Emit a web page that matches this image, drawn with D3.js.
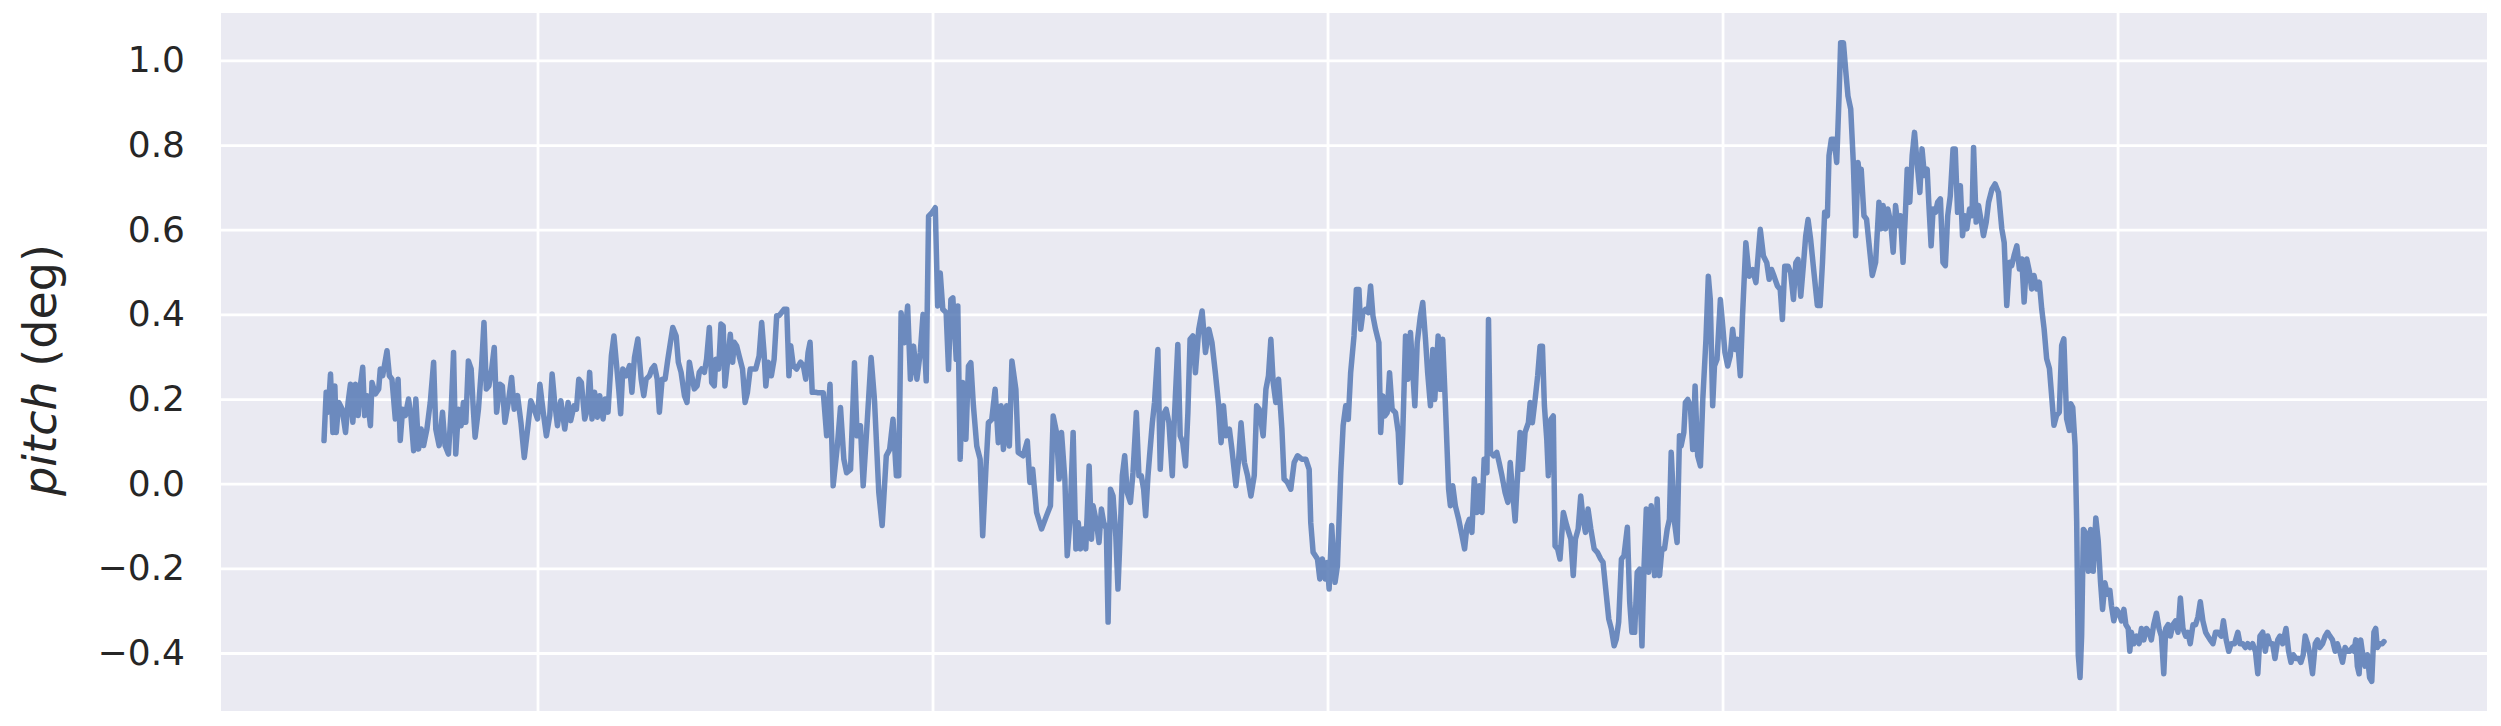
<!DOCTYPE html>
<html>
<head>
<meta charset="utf-8">
<script src="https://cdn.jsdelivr.net/npm/d3@7"></script>
<style>
  body { margin: 0; background: #fff; }
  .grid line { stroke: #fff; stroke-width: 2.8px; }
  .grid path { display: none; }
  .axis text { font-family: "DejaVu Sans", sans-serif; fill: #262626; }
</style>
</head>
<body>
<svg width="2501" height="726"></svg>
<script>
// sample time (arbitrary units, no labels on the x axis) and pitch in degrees
var timeSteps = [
  91.9,93.0,94.0,95.2,96.4,97.4,98.1,99.4,101.1,102.8,104.1,105.3,106.5,107.8,109.2,110.4,111.5,112.5,113.7,115.4,
  116.2,117.9,119.6,120.4,121.6,123.8,125.0,126.3,128.0,129.4,130.5,131.7,133.1,134.7,135.9,137.3,138.4,139.8,141.1,142.3,
  144.0,145.7,147.4,148.5,150.2,151.9,153.2,154.9,156.3,157.5,158.6,160.0,161.3,162.5,163.7,165.0,166.4,167.5,168.4,170.1,
  171.7,172.9,174.1,175.4,176.8,178.1,179.3,181.0,182.2,183.5,185.2,186.9,188.2,189.9,191.6,193.3,195.0,196.6,198.3,200.0,
  201.2,202.9,204.5,206.2,207.4,208.7,210.1,211.8,213.8,215.5,
  216.8,218.5,219.7,220.9,222.2,223.9,225.3,226.4,227.6,228.9,230.3,231.5,233.2,234.3,235.7,237.4,238.7,239.9,241.1,242.1,
  243.2,244.9,246.6,247.8,249.1,250.8,252.5,253.8,255.0,256.7,257.9,259.2,260.6,261.7,263.1,264.6,266.0,267.3,268.5,270.2,
  271.3,272.7,274.4,275.7,276.9,278.1,279.4,280.8,281.9,283.1,284.5,285.6,287.0,288.2,289.5,290.3,291.7,292.9,294.0,294.9,
  296.2,297.6,298.8,299.6,300.8,302.1,303.8,305.1,306.3,307.7,309.3,310.5,312.2,313.5,314.7,315.6,316.8,318.4,319.8,321.1,
  322.3,323.5,324.8,326.2,327.3,328.2,329.5,331.2,333.2,334.6,335.8,337.0,338.0,339.1,340.8,
  341.7,344.7,346.4,348.1,349.7,351.8,353.4,355.1,356.5,358.5,360.5,361.8,363.5,364.9,366.6,368.9,370.6,372.8,374.5,376.6,
  378.3,380.0,381.7,382.9,384.1,385.7,387.4,388.8,390.4,392.1,393.8,395.2,396.8,398.0,399.7,401.4,402.6,403.9,405.2,406.9,
  408.1,409.3,410.3,412.0,412.8,414.0,415.3,416.9,418.2,419.4,420.7,422.4,424.1,425.4,427.1,428.3,430.0,431.7,433.3,434.7,
  435.9,437.5,438.9,440.2,442.2,443.4,445.9,448.0,449.3,450.7,452.7,455.2,457.7,459.7,461.1,462.8,464.1,465.3,467.0,
  468.2,469.5,471.2,472.6,473.8,474.9,476.3,477.6,479.3,480.5,481.3,483.0,484.3,485.5,486.7,488.0,488.9,490.1,491.4,492.8,
  493.9,495.1,496.1,497.3,498.6,500.2,501.5,503.2,504.5,505.7,506.9,507.9,509.1,509.9,511.3,512.4,514.1,515.3,516.6,518.3,
  519.7,521.4,522.5,524.2,525.4,526.7,528.1,529.3,530.4,531.8,533.1,534.8,536.5,538.2,539.9,541.5,543.2,544.9,546.1,547.3,
  548.6,550.3,551.6,553.6,555.0,556.2,557.9,559.5,561.2,562.9,564.1,565.4,567.4,568.8,570.1,571.3,572.5,573.8,575.2,576.9,
  578.0,579.7,581.4,583.1,584.8,587.0,589.0,590.7,591.5,592.7,594.9,
  596.1,597.4,598.8,599.9,600.8,602.1,603.8,605.0,606.7,607.9,609.2,610.5,611.7,613.4,614.6,615.9,616.8,617.9,619.3,620.6,
  621.8,623.0,624.3,626.0,626.9,628.0,629.0,630.2,631.4,632.7,634.4,635.8,637.0,638.1,639.5,640.7,642.0,643.2,644.2,645.4,
  647.0,648.2,649.6,650.7,652.1,653.3,654.3,656.0,657.1,658.3,659.7,661.3,662.2,663.4,664.7,666.4,668.1,669.4,670.6,671.8,
  673.1,674.3,675.6,676.8,678.2,679.3,680.7,681.5,682.5,684.1,685.7,686.9,688.3,689.9,691.3,692.5,693.6,695.0,696.3,697.5,
  698.7,700.0,701.7,702.6,703.7,705.1,706.4,707.6,708.8,709.8,711.0,711.8,713.1,714.3,715.2,716.5,717.7,719.4,721.1,
  723.2,724.4,725.5,726.9,728.2,729.4,730.6,731.9,733.3,735.0,736.6,738.3,739.5,741.2,742.4,743.7,745.1,746.2,747.4,748.8,
  750.1,751.8,753.0,754.1,755.5,756.8,758.0,759.2,760.2,761.4,762.6,763.9,765.6,766.9,768.1,769.3,770.6,772.0,773.1,774.0,
  775.7,777.0,778.2,779.0,780.4,781.2,782.4,783.7,784.9,786.1,787.4,788.8,790.0,791.6,792.8,793.8,795.0,795.9,797.2,798.9,
  800.1,801.2,802.6,803.9,805.1,806.3,807.6,809.0,810.1,811.8,813.5,815.2,816.9,818.1,819.1,820.7,822.4,823.6,824.8,826.1,
  827.8,829.2,830.3,831.5,833.2,834.5,835.9,837.1,838.2,839.6,840.9,842.1,843.3,844.6,846.3,
  848.0,849.4,850.6,851.7,853.1,853.9,855.1,856.5,857.8,859.0,859.8,861.2,862.3,863.5,864.9,866.2,867.4,868.6,869.6,870.2,
  871.6,872.9,874.1,875.8,877.5,879.2,880.3,881.3,882.5,883.7,885.1,886.4,887.6,888.8,890.1,891.4,892.6,893.5,894.8,896.0,
  897.2,898.5,899.9,901.0,902.2,903.6,904.4,905.6,906.6,907.8,908.9,910.3,911.6,912.8,914.0,915.3,916.7,917.8,919.0,920.4,
  921.5,922.7,923.7,925.1,926.3,927.1,928.4,929.6,930.8,932.1,933.5,934.7,936.4,938.0,939.7,941.4,942.6,943.9,945.3,946.4,
  947.6,949.0,950.3,951.5,952.7,954.0,955.4,956.5,957.7,959.1,960.4,961.6,962.8,964.1,965.5,966.6,967.8,969.1,970.5,971.7,
  972.8,974.2,
  975.6,976.3,977.3,978.5,979.3,980.1,981.0,981.8,982.7,984.0,985.2,986.4,987.7,989.0,990.2,991.4,992.4,993.6,994.8,996.1,
  996.9,998.1,999.5,1000.8,1002.0,1003.2,1004.2,1005.4,1006.2,1007.0,1008.2,1009.6,1010.9,1012.1,1013.3,1014.6,1016.0,1017.1,1018.3,1019.7,
  1021.0,1022.2,1023.4,1024.4,1025.6,1026.7,1028.1,1029.4,1030.6,1031.8,1033.1,1034.5,1035.6,1036.8,1038.2,1039.5,1040.7,1041.9,1043.2,1044.6,
  1045.7,1046.9,1048.3,1049.6,1050.8,1052.5,1053.6,1055.0,1056.3,1057.5,1059.2,1060.9,1062.0,1063.4,1064.7,1065.9,1067.1,1068.4,1069.8,1071.0,
  1072.1,1073.5,1074.8,1076.0,1077.2,1078.5,1079.7,1081.1,1082.2,1083.6,1085.3,1086.6,1087.8,1089.0,1090.3,1091.7,1092.8,1094.0,1095.0,1096.2,
  1097.4,1098.7,1100.1,1101.2,1102.4,1103.8,1105.1,1106.3,1107.5,1108.8,1110.2,1111.3,1112.5,1113.9,1115.2,1116.4,1117.6,1118.9,1119.7,1120.6,
  1121.4,1122.3,1123.1,1123.9,1125.3,1126.5,1127.6,1128.7,1129.8,1130.7,1131.5,1132.7,1134.0,1134.9
];

var pitchDeg = [
  0.102,0.216,0.169,0.259,0.121,0.231,0.121,0.192,0.176,0.121,0.192,0.235,0.145,0.235,0.161,0.235,0.275,0.161,0.208,0.137,
  0.239,0.212,0.224,0.271,0.255,0.314,0.255,0.247,0.153,0.247,0.102,0.176,0.161,0.200,0.161,0.078,0.200,0.082,0.129,0.090,
  0.129,0.192,0.287,0.129,0.090,0.169,0.090,0.070,0.176,0.310,0.070,0.176,0.137,0.192,0.145,0.290,0.271,0.176,0.110,0.176,
  0.279,0.381,0.224,0.231,0.271,0.322,0.169,0.235,0.231,0.145,0.192,0.251,0.176,0.208,0.145,0.062,0.129,0.196,0.176,0.153,
  0.235,0.169,0.113,0.161,0.259,0.192,0.137,0.196,0.129,0.192,
  0.149,0.184,0.176,0.247,0.239,0.153,0.176,0.263,0.153,0.216,0.157,0.208,0.153,0.200,0.169,0.302,0.349,0.287,0.224,0.165,
  0.271,0.255,0.279,0.216,0.298,0.342,0.247,0.208,0.247,0.255,0.271,0.279,0.247,0.169,0.247,0.247,0.294,0.334,0.369,0.349,
  0.287,0.263,0.208,0.192,0.287,0.255,0.224,0.231,0.263,0.271,0.263,0.294,0.369,0.239,0.231,0.294,0.271,0.377,0.373,0.231,
  0.287,0.353,0.287,0.334,0.326,0.302,0.271,0.192,0.216,0.271,0.271,0.271,0.302,0.381,0.310,0.231,0.287,0.255,0.294,0.397,
  0.397,0.404,0.412,0.412,0.255,0.326,0.279,0.271,0.287,0.279,0.247,0.310,0.334,0.216,0.216,
  0.215,0.215,0.113,0.235,-0.005,0.089,0.180,0.058,0.026,0.034,0.286,0.113,0.137,-0.005,0.121,0.298,0.199,-0.021,-0.099,0.066,
  0.081,0.152,0.019,0.019,0.404,0.333,0.420,0.247,0.325,0.247,0.310,0.400,0.243,0.632,0.640,0.652,0.420,0.498,0.412,0.404,
  0.270,0.435,0.439,0.294,0.420,0.058,0.239,0.105,0.278,0.286,0.184,0.089,0.058,-0.123,0.042,0.144,0.152,0.223,0.097,0.184,
  0.081,0.184,0.089,0.290,0.223,0.074,0.066,0.101,0.003,0.034,-0.068,-0.107,-0.076,-0.052,0.160,0.121,0.011,0.121,0.011,
  -0.170,-0.092,0.121,-0.154,-0.092,-0.154,-0.107,-0.154,0.042,-0.131,-0.052,-0.092,-0.139,-0.060,-0.092,-0.107,-0.327,-0.013,-0.029,-0.123,
  -0.249,-0.107,0.019,0.066,-0.021,-0.044,0.026,0.168,0.019,0.019,-0.013,-0.076,0.019,0.066,0.144,0.192,0.317,0.034,0.160,0.176,
  0.144,0.019,0.160,0.329,0.113,0.097,0.042,0.168,0.341,0.349,0.262,0.365,0.408,0.310,0.365,0.333,0.262,0.184,0.097,0.184,
  0.113,0.129,0.081,-0.005,0.058,0.144,0.050,0.019,-0.029,0.019,0.184,0.176,0.113,0.223,0.255,0.341,0.239,0.192,0.247,0.129,
  0.011,0.003,-0.013,0.050,0.066,0.058,0.058,0.034,-0.092,-0.162,-0.178,
  -0.225,-0.178,-0.225,-0.186,-0.249,-0.099,-0.233,-0.194,0.026,0.137,0.184,0.152,0.262,0.349,0.459,0.459,0.365,0.404,0.412,0.404,
  0.467,0.396,0.365,0.333,0.121,0.207,0.160,0.168,0.262,0.176,0.168,0.121,0.003,0.121,0.349,0.247,0.357,0.262,0.184,0.333,
  0.396,0.428,0.341,0.262,0.184,0.317,0.199,0.349,0.223,0.341,0.184,-0.013,-0.052,-0.005,-0.052,-0.084,-0.123,-0.154,-0.099,-0.084,
  -0.115,0.011,-0.068,-0.005,-0.068,0.058,0.026,0.388,0.074,0.066,0.074,0.050,0.019,-0.021,-0.044,0.050,-0.013,-0.088,0.026,0.121,
  0.034,0.121,0.144,0.192,0.144,0.199,0.255,0.325,0.325,0.184,0.105,0.019,0.152,0.160,-0.147,-0.154,-0.178,-0.068,-0.099,
  -0.131,-0.217,-0.131,-0.107,-0.029,-0.084,-0.115,-0.060,-0.107,-0.154,-0.162,-0.178,-0.186,-0.265,-0.320,-0.343,-0.383,-0.367,-0.327,-0.178,
  -0.170,-0.103,-0.280,-0.351,-0.351,-0.209,-0.202,-0.383,-0.202,-0.060,-0.209,-0.052,-0.217,-0.036,-0.217,-0.154,-0.154,-0.107,-0.084,0.074,
  -0.092,-0.139,0.113,0.089,0.121,0.192,0.199,0.184,0.081,0.231,0.066,0.042,0.199,0.341,0.490,0.435,0.184,0.278,0.294,0.435,
  0.372,0.310,0.278,0.302,0.365,0.317,0.341,0.255,0.396,0.569,0.490,0.506,0.475,0.545,0.601,0.538,0.522,0.483,0.506,0.490,
  0.467,0.459,0.388,0.514,0.514,0.498,0.435,0.522,0.530,0.443,0.514,0.585,0.624,0.577,0.498,
  0.421,0.421,0.523,0.641,0.633,0.775,0.814,0.814,0.759,0.916,1.042,1.042,0.979,0.916,0.885,0.759,0.586,0.759,0.712,0.743,
  0.633,0.625,0.570,0.492,0.523,0.665,0.602,0.657,0.602,0.649,0.618,0.547,0.657,0.610,0.633,0.523,0.641,0.743,0.665,0.775,
  0.830,0.759,0.688,0.791,0.728,0.743,0.665,0.562,0.649,0.641,0.665,0.673,0.523,0.515,0.633,0.680,0.791,0.791,0.641,0.704,
  0.586,0.633,0.602,0.649,0.633,0.794,0.618,0.657,0.625,0.586,0.618,0.665,0.696,0.708,0.688,0.602,0.570,0.421,0.523,0.515,
  0.539,0.562,0.507,0.531,0.429,0.531,0.500,0.460,0.492,0.460,0.476,0.413,0.366,0.295,0.272,0.209,0.138,0.161,0.169,0.327,
  0.342,0.154,
  0.126,0.189,0.180,0.090,-0.090,-0.404,-0.458,-0.360,-0.108,-0.117,-0.207,-0.108,-0.207,-0.081,-0.135,-0.234,-0.297,-0.234,-0.261,-0.252,
  -0.288,-0.324,-0.297,-0.306,-0.324,-0.297,-0.333,-0.342,-0.396,-0.351,-0.378,-0.360,-0.378,-0.342,-0.369,-0.342,-0.351,-0.369,-0.333,-0.306,
  -0.342,-0.360,-0.449,-0.342,-0.333,-0.360,-0.333,-0.324,-0.351,-0.270,-0.342,-0.360,-0.351,-0.378,-0.333,-0.333,-0.315,-0.279,-0.324,-0.351,
  -0.360,-0.369,-0.378,-0.351,-0.351,-0.360,-0.324,-0.369,-0.396,-0.378,-0.378,-0.351,-0.378,-0.378,-0.387,-0.378,-0.387,-0.378,-0.396,-0.449,
  -0.360,-0.351,-0.396,-0.360,-0.378,-0.378,-0.413,-0.369,-0.360,-0.378,-0.342,-0.396,-0.422,-0.404,-0.413,-0.413,-0.422,-0.404,-0.360,-0.378,
  -0.404,-0.449,-0.378,-0.369,-0.387,-0.378,-0.360,-0.351,-0.360,-0.369,-0.396,-0.378,-0.396,-0.422,-0.387,-0.396,-0.396,-0.387,-0.396,-0.369,
  -0.431,-0.449,-0.369,-0.396,-0.431,-0.404,-0.458,-0.467,-0.351,-0.342,-0.387,-0.378,-0.378,-0.373
];

var xTicks = [200, 400, 600, 800, 1000];
var yTicks = [-0.4, -0.2, 0.0, 0.2, 0.4, 0.6, 0.8, 1.0];
var yDomain = [-0.537, 1.112];

var data = timeSteps.map(function(t, i) { return {t: t, pitch: pitchDeg[i]}; });

var svg = d3.select("svg"),
    margin = {top: 13, right: 14, bottom: 15, left: 221},
    width = svg.attr("width") - margin.left - margin.right,
    height = svg.attr("height") - margin.top - margin.bottom,
    g = svg.append("g").attr("transform", "translate(" + margin.left + "," + margin.top + ")");

// matplotlib style 5% padding on x
var ext = d3.extent(timeSteps), pad = (ext[1] - ext[0]) * 0.05;
var x = d3.scaleLinear().domain([ext[0] - pad, ext[1] + pad]).range([0, width]),
    y = d3.scaleLinear().domain(yDomain).range([height, 0]);

// seaborn darkgrid background
g.append("rect")
    .attr("width", width)
    .attr("height", height)
    .attr("fill", "#eaeaf2");

// vertical gridlines, no tick labels on x
g.append("g")
    .attr("class", "grid")
    .attr("transform", "translate(0," + height + ")")
    .call(d3.axisBottom(x).tickValues(xTicks).tickSize(-height).tickFormat(""));

// horizontal gridlines
g.append("g")
    .attr("class", "grid")
    .call(d3.axisLeft(y).tickValues(yTicks).tickSize(-width).tickFormat(""));

// y tick labels
var yAxis = g.append("g")
    .attr("class", "axis")
    .call(d3.axisLeft(y).tickValues(yTicks).tickSize(0).tickPadding(36).tickFormat(d3.format(".1f")));
yAxis.select(".domain").remove();
yAxis.selectAll("text").attr("font-size", "36px");

// y axis title: italic "pitch" then "(deg)"
var title = svg.append("text")
    .attr("class", "axis")
    .attr("transform", "translate(56,370) rotate(-90)")
    .attr("text-anchor", "middle")
    .attr("font-family", "DejaVu Sans, sans-serif")
    .attr("font-size", "46px")
    .attr("fill", "#262626");
title.append("tspan").attr("font-style", "italic").text("pitch");
title.append("tspan").text(" (deg)");

var line = d3.line()
    .curve(d3.curveLinear)
    .x(function(d) { return x(d.t); })
    .y(function(d) { return y(d.pitch); });

g.append("path")
    .datum(data)
    .attr("fill", "none")
    .attr("stroke", "#4c72b0")
    .attr("stroke-opacity", 0.8)
    .attr("stroke-width", 5.5)
    .attr("stroke-linejoin", "round")
    .attr("stroke-linecap", "round")
    .attr("d", line);
</script>
</body>
</html>
